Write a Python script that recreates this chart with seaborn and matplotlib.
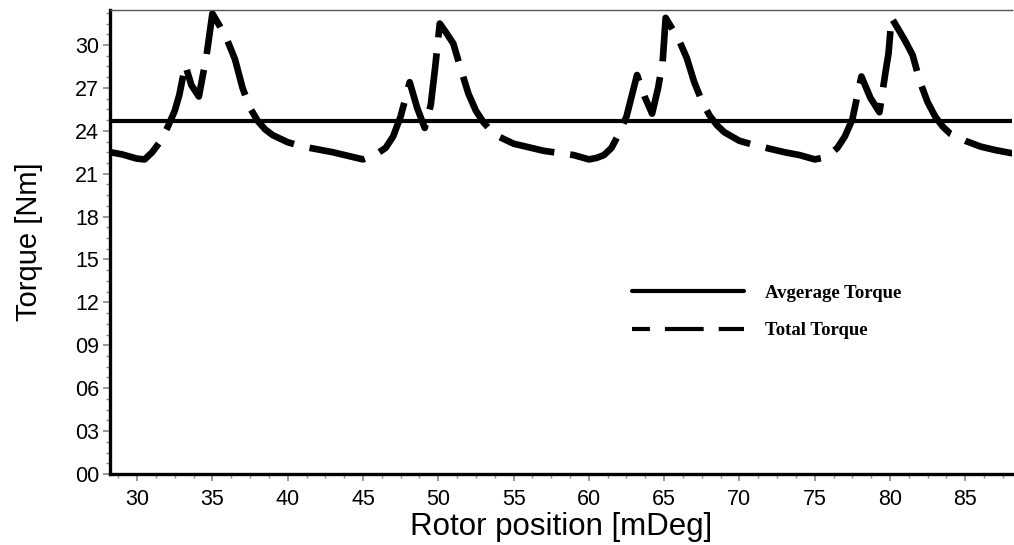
import matplotlib
matplotlib.use("Agg")
import matplotlib.pyplot as plt
from matplotlib.ticker import MultipleLocator, AutoMinorLocator, FuncFormatter
from matplotlib.lines import Line2D
import seaborn as sns
import pandas as pd

# Rotor position [mDeg] and total torque [Nm]
rotor_position = [
    28.2, 28.5, 29.0, 29.5, 30.0, 30.5, 31.0, 31.5, 32.0, 32.5, 32.8, 33.2, 33.6, 34.1, 34.6, 35.0,
    35.5, 36.0, 36.5, 37.0, 37.5, 38.0, 38.5, 39.0, 40.0, 41.0, 42.0, 43.0, 44.0, 45.0,
    45.5, 46.0, 46.5, 47.0, 47.5, 48.1, 48.6, 49.1, 49.5, 49.8, 50.1,
    50.5, 51.0, 51.5, 52.0, 52.5, 53.0, 53.5, 54.0, 55.0, 56.0, 57.0, 58.0, 59.0, 60.0,
    60.5, 61.0, 61.5, 62.0, 62.5, 63.2, 63.7, 64.2, 64.6, 64.9, 65.1,
    65.5, 66.0, 66.5, 67.0, 67.5, 68.0, 68.5, 69.0, 70.0, 71.0, 72.0, 73.0, 74.0, 75.0,
    75.5, 76.0, 76.5, 77.0, 77.5, 78.1, 78.7, 79.3, 79.7, 79.9, 80.1,
    80.5, 81.0, 81.5, 82.0, 82.5, 83.0, 83.5, 84.0, 85.0, 86.0, 87.0, 88.0, 88.5,
]
total_torque = [
    22.5, 22.45, 22.35, 22.2, 22.05, 22.0, 22.5, 23.2, 24.2, 25.4, 26.5, 28.6, 27.2, 26.4, 29.2, 32.2,
    31.3, 30.3, 29.0, 27.0, 25.6, 24.7, 24.1, 23.7, 23.2, 22.9, 22.7, 22.5, 22.25, 22.0,
    22.2, 22.45, 22.8, 23.6, 25.0, 27.4, 25.6, 24.2, 25.8, 28.5, 31.5,
    30.9, 30.1, 28.3, 26.6, 25.4, 24.6, 24.0, 23.6, 23.1, 22.85, 22.6, 22.45, 22.3, 22.0,
    22.1, 22.3, 22.8, 23.8, 25.0, 27.9, 26.4, 25.2, 27.0, 28.8, 31.9,
    31.2, 30.3, 29.1, 27.4, 26.1, 25.1, 24.4, 23.9, 23.3, 23.0, 22.75, 22.5, 22.3, 22.0,
    22.1, 22.35, 22.8, 23.6, 24.8, 27.8, 26.3, 25.3, 28.1, 29.4, 31.9,
    31.2, 30.3, 29.3, 27.4, 26.0, 25.0, 24.3, 23.8, 23.3, 22.9, 22.65, 22.45, 22.4,
]
average_torque = 24.7

series_labels = ["Avgerage Torque", "Total Torque"]
x_label = "Rotor position [mDeg]"
y_label = "Torque [Nm]"

df = pd.DataFrame({"position": rotor_position, "torque": total_torque})

sns.set_style("white")
plt.rcParams["font.family"] = ["Liberation Sans", "DejaVu Sans"]
plt.rcParams["text.color"] = "black"
plt.rcParams["axes.labelcolor"] = "black"
plt.rcParams["xtick.labelcolor"] = "black"
plt.rcParams["ytick.labelcolor"] = "black"

fig = plt.figure(figsize=(10.14, 5.45), dpi=100)
ax = fig.add_axes([0.1085, 0.1303, 0.8895, 0.8514])

# Total torque: thick dashed curve
sns.lineplot(data=df, x="position", y="torque", ax=ax, color="black",
             linewidth=4.8, sort=False, estimator=None)
curve = ax.lines[-1]
curve.set_dashes((8.5, 2.4))
curve.set_dash_capstyle("butt")
curve.set_solid_joinstyle("round")
curve.set_dash_joinstyle("round")

# Average torque: solid horizontal line
ax.axhline(average_torque, color="black", linewidth=3.0)

ax.set_xlim(28.2, 88.1)
ax.set_ylim(0, 32.45)

ax.xaxis.set_major_locator(MultipleLocator(5))
ax.xaxis.set_minor_locator(AutoMinorLocator(4))
ax.yaxis.set_major_locator(MultipleLocator(3))
ax.yaxis.set_minor_locator(AutoMinorLocator(4))
ax.yaxis.set_major_formatter(FuncFormatter(lambda v, p: f"{int(round(v)):02d}"))

ax.tick_params(axis="both", which="major", direction="out", length=5, width=1.2,
               color="#888888", labelsize=15.5, pad=3, left=True, bottom=True,
               labelcolor="black")
ax.tick_params(axis="x", which="major", pad=6)
ax.tick_params(axis="both", which="minor", direction="out", length=3, width=1.0,
               color="#888888", left=True, bottom=True)

for side in ("left", "bottom"):
    ax.spines[side].set_linewidth(2.4)
    ax.spines[side].set_color("black")
ax.spines["top"].set_linewidth(1.0)
ax.spines["top"].set_color("#555555")
ax.spines["right"].set_visible(False)

ax.set_xlabel(x_label, fontsize=22.5, labelpad=1, color="black")
ax.set_ylabel(y_label, fontsize=21, labelpad=23, color="black")

# Legend with proxy handles
handles = [
    Line2D([], [], color="black", linewidth=3.0),
    Line2D([], [], color="black", linewidth=3.0, linestyle=(5.0, (9.3, 3.6)),
           dash_capstyle="butt"),
]
ax.legend(handles, series_labels, loc="upper left", bbox_to_anchor=(0.56, 0.445),
          frameon=False, handlelength=6.0, handletextpad=1.1, labelspacing=1.1,
          prop={"family": "Liberation Serif", "weight": "bold", "size": 13.5})

fig.savefig("out.png", dpi=100)
